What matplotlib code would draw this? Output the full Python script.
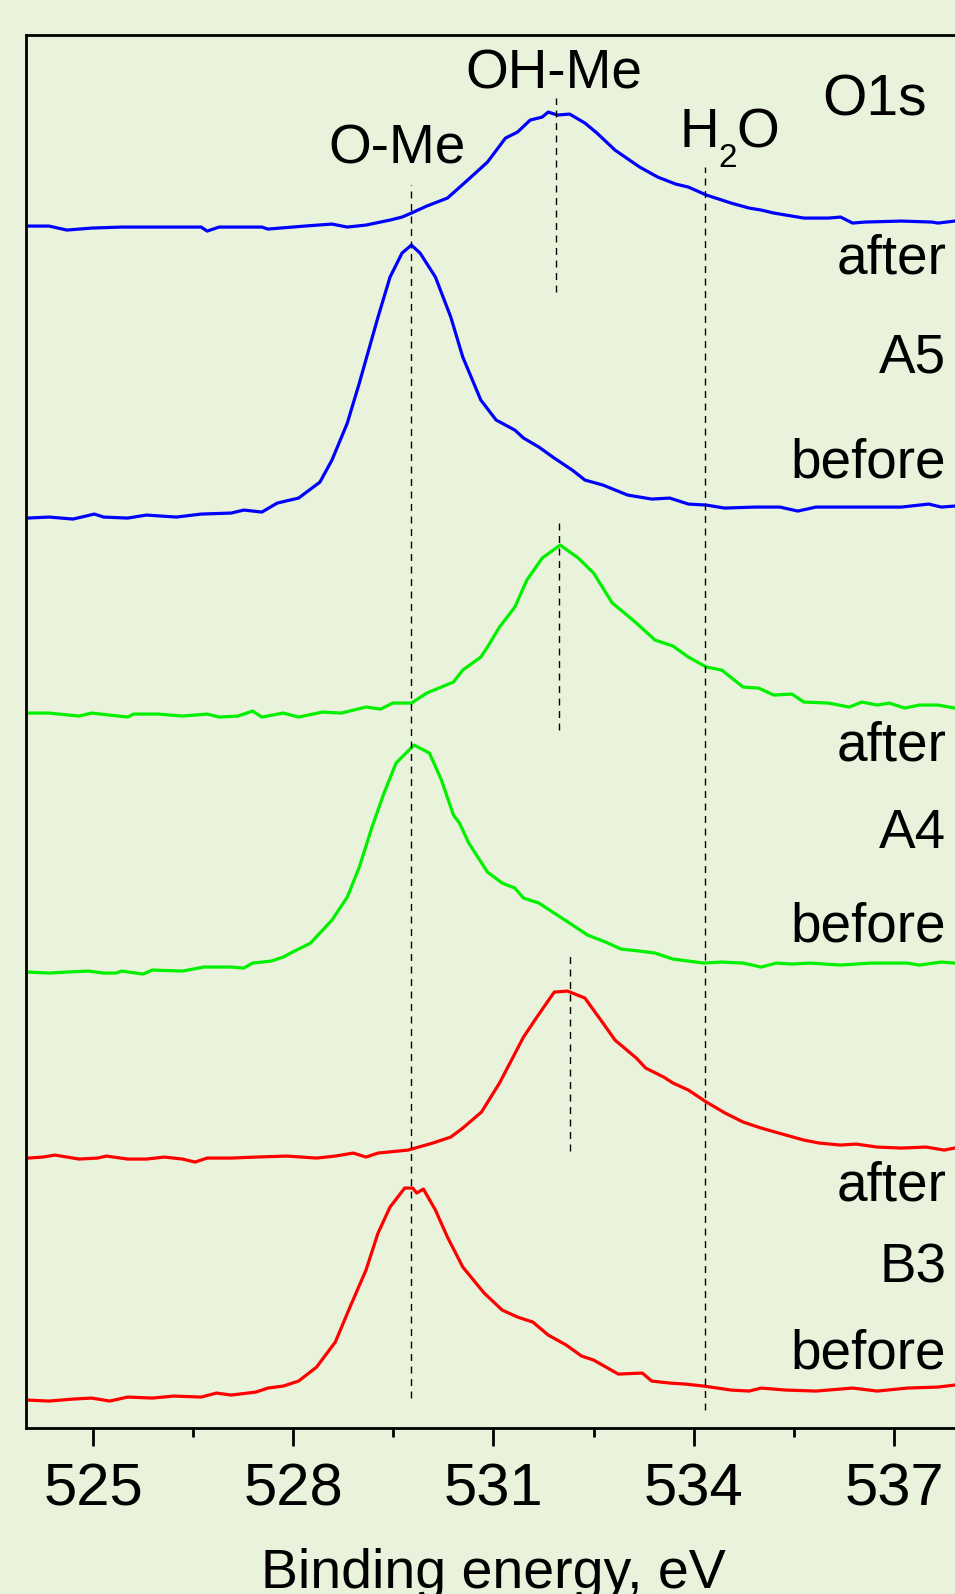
import matplotlib
matplotlib.use('Agg')
import matplotlib.pyplot as plt
from matplotlib.ticker import MultipleLocator

plt.rcParams['font.family'] = ['Liberation Sans', 'DejaVu Sans']

# ── Datos (energía de enlace en eV, intensidad en u.a.) ──
a5_after_x = [524.02, 524.34, 524.61, 524.98, 525.43, 525.89, 526.34, 526.62, 526.71, 526.89,
              527.53, 527.62, 528.17, 528.58, 528.81, 529.09, 529.45, 529.63, 529.77, 530.00,
              530.31, 530.63, 530.91, 531.18, 531.36, 531.55, 531.73, 531.82, 531.96, 532.14,
              532.37, 532.55, 532.82, 533.19, 533.46, 533.73, 533.92, 534.19, 534.56, 534.83,
              535.01, 535.20, 535.47, 535.65, 536.02, 536.20, 536.38, 536.56, 537.11, 537.57,
              537.66, 537.91]
a5_after_y = [1202, 1202, 1198, 1200, 1201, 1201, 1201, 1201, 1197, 1201,
              1201, 1199, 1202, 1204, 1201, 1203, 1208, 1211, 1215, 1222,
              1230, 1249, 1266, 1290, 1296, 1308, 1311, 1316, 1313, 1314,
              1305, 1295, 1278, 1261, 1251, 1244, 1241, 1233, 1225, 1220,
              1218, 1215, 1212, 1210, 1210, 1211, 1205, 1206, 1207, 1206,
              1205, 1207]

a5_before_x = [524.02, 524.34, 524.70, 525.02, 525.16, 525.52, 525.80, 526.25, 526.62, 527.07,
               527.26, 527.53, 527.76, 528.08, 528.40, 528.58, 528.81, 528.99, 529.13, 529.27,
               529.45, 529.63, 529.77, 529.90, 530.13, 530.36, 530.54, 530.81, 531.04, 531.32,
               531.45, 531.68, 531.91, 532.18, 532.37, 532.64, 533.01, 533.37, 533.64, 533.92,
               534.19, 534.46, 534.92, 535.29, 535.56, 535.83, 536.20, 536.75, 537.11, 537.52,
               537.71, 537.91]
a5_before_y = [910, 911, 909, 914, 911, 910, 913, 911, 914, 915,
               918, 916, 925, 930, 946, 968, 1005, 1045, 1078, 1111,
               1151, 1175, 1183, 1175, 1151, 1111, 1071, 1028, 1008, 998,
               990, 981, 970, 958, 948, 943, 933, 929, 930, 924,
               923, 920, 921, 921, 917, 921, 921, 921, 921, 924,
               921, 922]

a4_after_x = [524.02, 524.34, 524.79, 524.98, 525.25, 525.52, 525.61, 525.98, 526.34, 526.71,
              526.89, 527.17, 527.39, 527.53, 527.85, 528.08, 528.44, 528.72, 529.09, 529.31,
              529.49, 529.77, 530.00, 530.40, 530.54, 530.81, 530.91, 531.09, 531.32, 531.50,
              531.73, 532.00, 532.27, 532.50, 532.78, 532.91, 533.14, 533.42, 533.69, 533.92,
              534.19, 534.42, 534.74, 534.97, 535.20, 535.47, 535.65, 536.02, 536.33, 536.52,
              536.75, 536.93, 537.16, 537.38, 537.66, 537.91]
a4_after_y = [715, 715, 712, 715, 713, 711, 714, 714, 712, 714,
              711, 712, 717, 711, 715, 711, 716, 715, 721, 719,
              725, 725, 735, 746, 758, 771, 781, 801, 821, 848,
              870, 883, 870, 855, 825, 818, 805, 788, 782, 771,
              761, 758, 741, 740, 733, 734, 726, 725, 721, 726,
              723, 725, 720, 723, 723, 720]

a4_before_x = [524.02, 524.34, 524.61, 524.93, 525.16, 525.34, 525.43, 525.75, 525.89, 526.34,
               526.66, 527.07, 527.26, 527.39, 527.67, 527.85, 527.99, 528.26, 528.58, 528.81,
               528.99, 529.18, 529.36, 529.54, 529.81, 530.04, 530.22, 530.40, 530.49, 530.63,
               530.91, 531.13, 531.32, 531.45, 531.68, 531.91, 532.23, 532.41, 532.68, 532.91,
               533.19, 533.42, 533.69, 534.15, 534.42, 534.74, 535.01, 535.24, 535.47, 535.74,
               536.20, 536.66, 537.20, 537.38, 537.71, 537.91]
a4_before_y = [456, 455, 456, 457, 455, 455, 457, 454, 458, 457,
               461, 461, 460, 465, 467, 471, 476, 485, 508, 531,
               561, 601, 635, 665, 683, 675, 648, 613, 605, 585,
               556, 545, 540, 530, 525, 515, 501, 493, 486, 479,
               477, 475, 469, 465, 466, 465, 461, 465, 464, 465,
               463, 465, 465, 463, 466, 465]

b3_after_x = [524.02, 524.25, 524.43, 524.79, 525.07, 525.20, 525.52, 525.80, 526.07, 526.34,
              526.53, 526.71, 527.07, 527.44, 527.90, 528.35, 528.63, 528.90, 529.09, 529.27,
              529.72, 530.09, 530.36, 530.54, 530.82, 531.09, 531.27, 531.45, 531.64, 531.91,
              532.11, 532.37, 532.64, 532.82, 533.14, 533.28, 533.55, 533.69, 533.92, 534.19,
              534.47, 534.74, 535.01, 535.38, 535.65, 535.88, 536.20, 536.43, 536.75, 537.11,
              537.48, 537.75, 537.91]
b3_after_y = [270, 271, 273, 269, 270, 272, 269, 269, 271, 269,
              266, 270, 270, 271, 272, 270, 272, 275, 271, 275,
              278, 285, 291, 300, 316, 345, 368, 391, 410, 436,
              437, 430, 405, 388, 370, 360, 351, 345, 338, 326,
              315, 306, 300, 293, 288, 285, 283, 284, 281, 280,
              281, 278, 280]

b3_before_x = [524.02, 524.34, 524.70, 524.98, 525.25, 525.52, 525.89, 526.21, 526.62, 526.85,
               527.07, 527.44, 527.62, 527.85, 528.08, 528.35, 528.63, 528.85, 529.09, 529.27,
               529.45, 529.67, 529.79, 529.85, 529.95, 530.13, 530.31, 530.54, 530.86, 531.13,
               531.36, 531.59, 531.82, 532.09, 532.32, 532.50, 532.87, 533.23, 533.37, 533.64,
               533.87, 534.15, 534.56, 534.83, 535.01, 535.38, 535.83, 536.38, 536.75, 537.20,
               537.66, 537.91]
b3_before_y = [28, 27, 29, 30, 27, 31, 30, 32, 31, 35,
               33, 36, 40, 42, 47, 61, 86, 121, 158, 195,
               221, 240, 240, 235, 239, 218, 191, 161, 135, 118,
               111, 106, 93, 83, 72, 68, 54, 55, 47, 45,
               44, 42, 38, 37, 40, 38, 37, 40, 37, 40,
               41, 43]

# líneas de referencia: posición (eV), inicio y fin (u.a.)
ref_x = [529.76, 534.17, 531.94, 531.98, 532.14]
ref_y0 = [30, 18, 1136, 698, 277]
ref_y1 = [1243, 1261, 1330, 907, 472]

series = [
    (a5_after_x, a5_after_y, '#0000FF'),
    (a5_before_x, a5_before_y, '#0000FF'),
    (a4_after_x, a4_after_y, '#00F000'),
    (a4_before_x, a4_before_y, '#00F000'),
    (b3_after_x, b3_after_y, '#FF0000'),
    (b3_before_x, b3_before_y, '#FF0000'),
]

bg = '#E9F2DA'
fig = plt.figure(figsize=(9.55, 15.94), dpi=100, facecolor=bg)
ax = fig.add_axes([0.0275, 0.1041, 0.9785, 0.8739], facecolor=bg)

for x, y, c in series:
    ax.plot(x, y, color=c, lw=2.3)

for xv, y0, y1 in zip(ref_x, ref_y0, ref_y1):
    ax.plot([xv, xv], [y0, y1], color='black', lw=1.0, linestyle=(0, (5, 4)))

ax.set_xlim(524.0, 538.0)
ax.set_ylim(0, 1393)

ax.xaxis.set_major_locator(MultipleLocator(3))
ax.xaxis.set_minor_locator(MultipleLocator(1.5))
ax.tick_params(axis='x', which='major', direction='out', length=13, width=2,
               labelsize=43, pad=12)
ax.tick_params(axis='x', which='minor', direction='out', length=6.5, width=2)
ax.set_yticks([])
for s in ['left', 'top', 'bottom']:
    ax.spines[s].set_linewidth(2)
ax.spines['right'].set_visible(False)

ax.set_xlabel('Binding energy, eV', fontsize=40, labelpad=22)

fs = 39.5
ax.text(529.55, 1265, 'O-Me', fontsize=fs, ha='center', va='baseline')
ax.text(531.91, 1340, 'OH-Me', fontsize=fs, ha='center', va='baseline')
# H2O con subíndice más bajo, como en el original
ax.text(533.78, 1281, 'H', fontsize=fs, ha='left', va='baseline')
ax.text(534.37, 1261, '2', fontsize=24, ha='left', va='baseline')
ax.text(534.64, 1281, 'O', fontsize=fs, ha='left', va='baseline')
ax.text(536.71, 1313, 'O1s', fontsize=41, ha='center', va='baseline')

right_x = 537.78
labels = [('after', 1155), ('A5', 1056), ('before', 951),
          ('after', 668), ('A4', 580), ('before', 487),
          ('after', 228), ('B3', 146), ('before', 60)]
for txt, yv in labels:
    ax.text(right_x, yv, txt, fontsize=fs, ha='right', va='baseline')

plt.savefig('out.png', dpi=100, facecolor=bg)
